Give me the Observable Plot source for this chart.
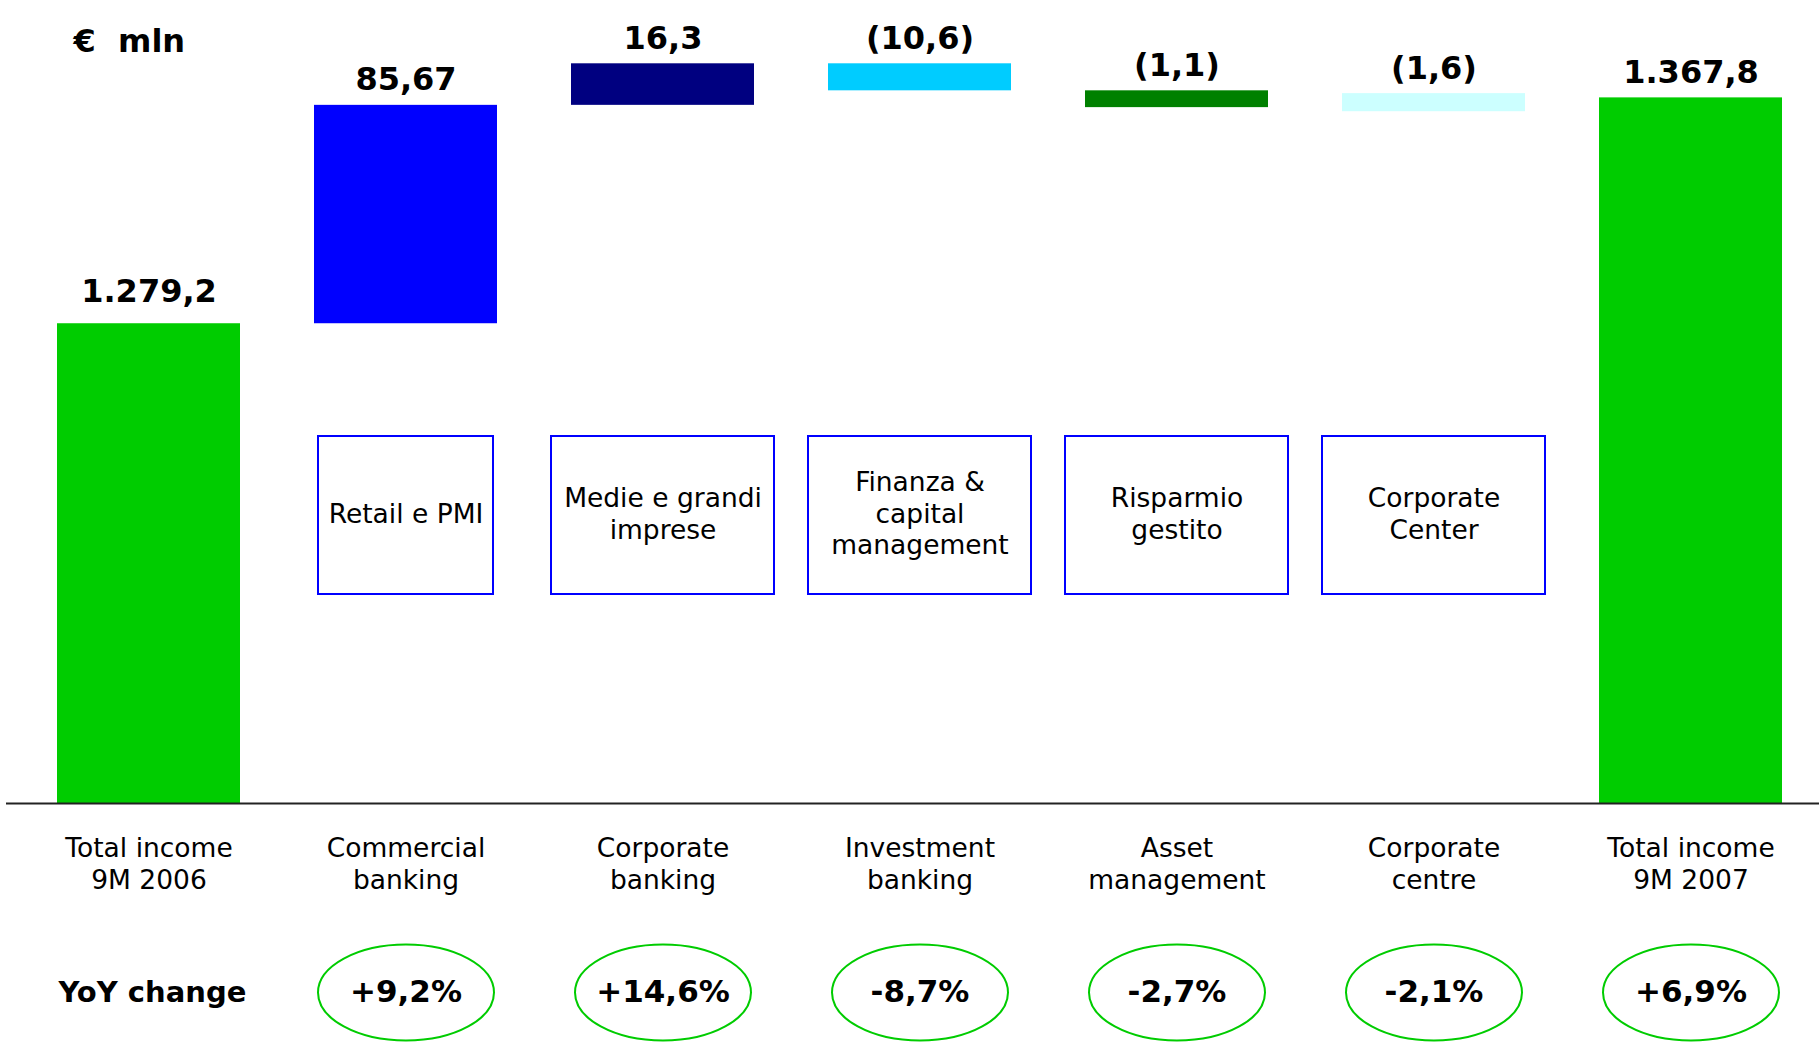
<!DOCTYPE html>
<html>
<head>
<meta charset="utf-8">
<script src="https://cdn.jsdelivr.net/npm/d3@7"></script>
<script src="https://cdn.jsdelivr.net/npm/@observablehq/plot@0.6"></script>
<style>
  html, body { margin: 0; padding: 0; background: #ffffff; }
  #chart svg { display: block; }
</style>
</head>
<body>
<div id="chart"></div>
<script>
// ---- data ----
const categories = [
  "Total income\n9M 2006",
  "Commercial\nbanking",
  "Corporate\nbanking",
  "Investment\nbanking",
  "Asset\nmanagement",
  "Corporate\ncentre",
  "Total income\n9M 2007"
];
const values = [1279.2, 85.67, 16.3, -10.6, -1.1, -1.6, 1367.8];
const valueLabels = ["1.279,2", "85,67", "16,3", "(10,6)", "(1,1)", "(1,6)", "1.367,8"];
const barColors = ["#00cc00", "#0000ff", "#000080", "#00ccff", "#008000", "#ccffff", "#00cc00"];
const segments = [
  "Retail e PMI",
  "Medie e grandi\nimprese",
  "Finanza &\ncapital\nmanagement",
  "Risparmio\ngestito",
  "Corporate\nCenter"
];
const yoyChanges = ["+9,2%", "+14,6%", "-8,7%", "-2,7%", "-2,1%", "+6,9%"];
const unitLabel = "€  mln";
const yoyTitle = "YoY change";

// ---- scale settings (broken value axis) ----
const yDomain = [1091, 1406];

// ---- build waterfall rows ----
let running = 0;
const rows = categories.map((cat, i) => {
  const isTotal = i === 0 || i === categories.length - 1;
  let start, end;
  if (isTotal) { start = yDomain[0]; end = values[i]; running = values[i]; }
  else { start = running; end = running + values[i]; running = end; }
  return {
    cat, start, end,
    top: Math.max(start, end),
    label: valueLabels[i],
    color: barColors[i],
    first: i === 0,
    small: !isTotal && Math.abs(values[i]) < 5
  };
});
const segRows = segments.map((s, i) => ({cat: categories[i + 1], s, first: i === 0}));
const yoyRows = yoyChanges.map((t, i) => ({cat: categories[i + 1], t}));

// ellipse symbol for the YoY badges
function ellipseSymbol(rx, ry) {
  const k = 0.5523;
  return {
    draw(ctx) {
      ctx.moveTo(rx, 0);
      ctx.bezierCurveTo(rx, ry * k, rx * k, ry, 0, ry);
      ctx.bezierCurveTo(-rx * k, ry, -rx, ry * k, -rx, 0);
      ctx.bezierCurveTo(-rx, -ry * k, -rx * k, -ry, 0, -ry);
      ctx.bezierCurveTo(rx * k, -ry, rx, -ry * k, rx, 0);
      ctx.closePath();
    }
  };
}

const W = 1819, H = 1042;
const baseY = 803;

const chart = Plot.plot({
  width: W,
  height: H,
  marginTop: 0,
  marginBottom: H - baseY,
  marginLeft: 54,
  marginRight: 34,
  style: {fontFamily: "'DejaVu Sans', Verdana, sans-serif", background: "#ffffff", color: "#000000"},
  x: {domain: categories, paddingInner: 0.286, paddingOuter: 0, axis: null},
  y: {domain: yDomain, axis: null},
  color: {type: "identity"},
  marks: [
    // bars
    Plot.barY(rows.filter(d => !d.small), {x: "cat", y1: "start", y2: "end", fill: "color"}),
    Plot.barY(rows.filter(d => d.small), {x: "cat", y1: "start", y2: "end", fill: "color", insetBottom: -14}),
    // baseline
    Plot.ruleY([yDomain[0]], {stroke: "#222222", strokeWidth: 2, insetLeft: -48, insetRight: -34}),
    // value labels
    Plot.text(rows.filter(d => !d.first), {x: "cat", y: "top", text: "label", dy: -15, lineAnchor: "bottom",
      fontSize: 32, fontWeight: "bold", fill: "#000000"}),
    Plot.text(rows.filter(d => d.first), {x: "cat", y: "top", text: "label", dy: -22, lineAnchor: "bottom",
      fontSize: 32, fontWeight: "bold", fill: "#000000"}),
    // unit label
    Plot.text([unitLabel], {text: d => d, frameAnchor: "top-left", dx: 19, dy: 51,
      textAnchor: "start", lineAnchor: "bottom", fontSize: 32, fontWeight: "bold", fill: "#000000"}),
    // segment boxes
    Plot.cell(segRows.filter(d => d.first), {x: "cat", insetTop: 436, insetBottom: baseY - 594,
      insetLeft: 4, insetRight: 4, fill: "#ffffff", stroke: "#0000ff", strokeWidth: 2}),
    Plot.cell(segRows.filter(d => !d.first), {x: "cat", insetTop: 436, insetBottom: baseY - 594,
      insetLeft: -20, insetRight: -20, fill: "#ffffff", stroke: "#0000ff", strokeWidth: 2}),
    Plot.text(segRows, {x: "cat", text: "s", frameAnchor: "top", dy: 512, lineAnchor: "middle",
      fontSize: 26.5, lineHeight: 1.2, fill: "#000000"}),
    // category labels
    Plot.axisX({tickSize: 0, tickPadding: 31, fontSize: 26.5, lineHeight: 1.2, label: null, fill: "#000000"}),
    // YoY row
    Plot.text([yoyTitle], {text: d => d, frameAnchor: "bottom-left", dx: 4, dy: 189,
      textAnchor: "start", lineAnchor: "middle", fontSize: 29, fontWeight: "bold", fill: "#000000"}),
    Plot.dot(yoyRows, {x: "cat", frameAnchor: "bottom", dy: 189, symbol: ellipseSymbol(88, 48),
      fill: "none", stroke: "#00cc00", strokeWidth: 2}),
    Plot.text(yoyRows, {x: "cat", text: "t", frameAnchor: "bottom", dy: 189, lineAnchor: "middle",
      fontSize: 31, fontWeight: "bold", fill: "#000000"})
  ]
});
document.getElementById("chart").appendChild(chart);
</script>
</body>
</html>
